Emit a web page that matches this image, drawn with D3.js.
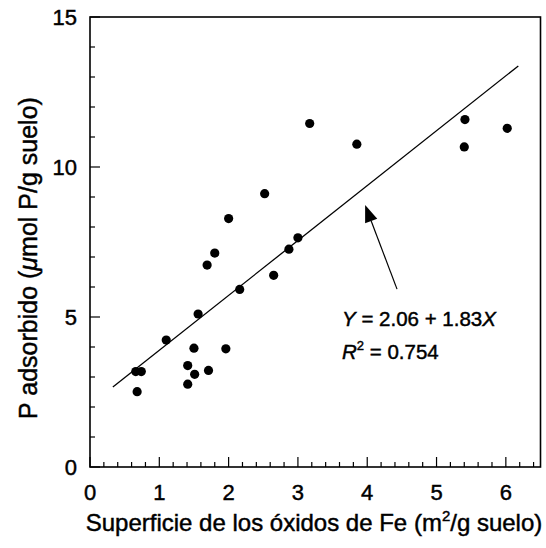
<!DOCTYPE html>
<html><head><meta charset="utf-8">
<script src="https://cdn.jsdelivr.net/npm/d3@7"></script>
<style>body{margin:0;background:#fff}svg text{font-family:"Liberation Sans",Arial,sans-serif;fill:#000;stroke:#000;stroke-width:0.45px}</style>
</head><body><svg id="c" width="546" height="548"></svg>
<script>
const xVals=[0.66,0.74,0.68,1.10,1.41,1.41,1.50,1.51,1.56,1.71,1.69,1.80,1.96,2.00,2.16,2.52,2.65,2.87,3.00,3.17,3.85,5.41,5.40,6.02];
const yVals=[3.18,3.18,2.51,4.23,3.38,2.76,3.96,3.09,5.10,3.22,6.73,7.13,3.94,8.28,5.92,9.11,6.39,7.26,7.64,11.45,10.76,11.58,10.67,11.29];
const xTicks=[0,1,2,3,4,5,6];
const yTicks=[0,5,10,15];
const fitIntercept=2.06, fitSlope=1.83, fitRange=[0.33,6.18];
const arrowFrom=[4.43,5.93], arrowTo=[3.97,8.73];

const svg=d3.select("#c");
const x=d3.scaleLinear().domain([0,6.5]).range([90,540.5]);
const y=d3.scaleLinear().domain([0,15]).range([467,17]);

// frame
svg.append("rect").attr("x",x(0)).attr("y",y(15)).attr("width",x(6.5)-x(0)).attr("height",y(0)-y(15))
  .attr("fill","none").attr("stroke","#000").attr("stroke-width",1.6);

// x ticks
const xMinor=d3.range(0,6.5,0.2).filter(v=>Math.abs(v-Math.round(v))>1e-6);
svg.append("g").selectAll("line").data(xMinor).join("line")
  .attr("x1",d=>x(d)).attr("x2",d=>x(d)).attr("y1",y(0)).attr("y2",y(0)-5).attr("stroke","#000").attr("stroke-width",1.2);
svg.append("g").selectAll("line").data(xTicks).join("line")
  .attr("x1",d=>x(d)).attr("x2",d=>x(d)).attr("y1",y(0)).attr("y2",y(0)-10).attr("stroke","#000").attr("stroke-width",1.2);
svg.append("g").selectAll("text").data(xTicks).join("text")
  .attr("x",d=>x(d)).attr("y",500).attr("text-anchor","middle").attr("font-size",22).text(d=>d);

// y ticks
const yMinor=d3.range(0,15,1).filter(v=>v%5!==0);
svg.append("g").selectAll("line").data(yMinor).join("line")
  .attr("x1",x(0)).attr("x2",x(0)+5).attr("y1",d=>y(d)).attr("y2",d=>y(d)).attr("stroke","#000").attr("stroke-width",1.2);
svg.append("g").selectAll("line").data(yTicks).join("line")
  .attr("x1",x(0)).attr("x2",x(0)+10).attr("y1",d=>y(d)).attr("y2",d=>y(d)).attr("stroke","#000").attr("stroke-width",1.2);
svg.append("g").selectAll("text").data(yTicks).join("text")
  .attr("x",77).attr("y",d=>y(d)+8).attr("text-anchor","end").attr("font-size",22).text(d=>d);

// axis titles
const xt=svg.append("text").attr("x",314).attr("y",531).attr("text-anchor","middle").attr("font-size",24);
xt.append("tspan").text("Superficie de los óxidos de Fe (m");
xt.append("tspan").attr("font-size",15).attr("dy",-10).text("2");
xt.append("tspan").attr("dy",10).text("/g suelo)");

const yt=svg.append("text").attr("transform","translate(37,258) rotate(-90)").attr("text-anchor","middle").attr("font-size",25);
yt.append("tspan").text("P adsorbido (");
yt.append("tspan").attr("font-style","italic").text("μ");
yt.append("tspan").text("mol P/g suelo)");

// fit line
svg.append("line").attr("x1",x(fitRange[0])).attr("y1",y(fitIntercept+fitSlope*fitRange[0]))
  .attr("x2",x(fitRange[1])).attr("y2",y(fitIntercept+fitSlope*fitRange[1])).attr("stroke","#000").attr("stroke-width",1.3);

// points
svg.append("g").selectAll("circle").data(xVals.map((v,i)=>[v,yVals[i]])).join("circle")
  .attr("cx",d=>x(d[0])).attr("cy",d=>y(d[1])).attr("r",4.6).attr("fill","#000");

// arrow
const ax0=x(arrowFrom[0]), ay0=y(arrowFrom[1]), ax1=x(arrowTo[0]), ay1=y(arrowTo[1]);
const ang=Math.atan2(ay1-ay0,ax1-ax0), hl=17, hw=6.5;
const bx=ax1-hl*Math.cos(ang), by=ay1-hl*Math.sin(ang);
svg.append("line").attr("x1",ax0).attr("y1",ay0).attr("x2",bx).attr("y2",by).attr("stroke","#000").attr("stroke-width",1.2);
svg.append("path").attr("d",`M${ax1},${ay1}L${bx+hw*Math.sin(ang)},${by-hw*Math.cos(ang)}L${bx-hw*Math.sin(ang)},${by+hw*Math.cos(ang)}Z`).attr("fill","#000");

// annotation
const t1=svg.append("text").attr("x",342).attr("y",326).attr("font-size",20.5);
t1.append("tspan").attr("font-style","italic").text("Y");
t1.append("tspan").text(" = 2.06 + 1.83");
t1.append("tspan").attr("font-style","italic").text("X");
const t2=svg.append("text").attr("x",342).attr("y",359).attr("font-size",20.5);
t2.append("tspan").attr("font-style","italic").text("R");
t2.append("tspan").attr("font-size",13).attr("dy",-9).text("2");
t2.append("tspan").attr("dy",9).text(" = 0.754");
</script></body></html>
